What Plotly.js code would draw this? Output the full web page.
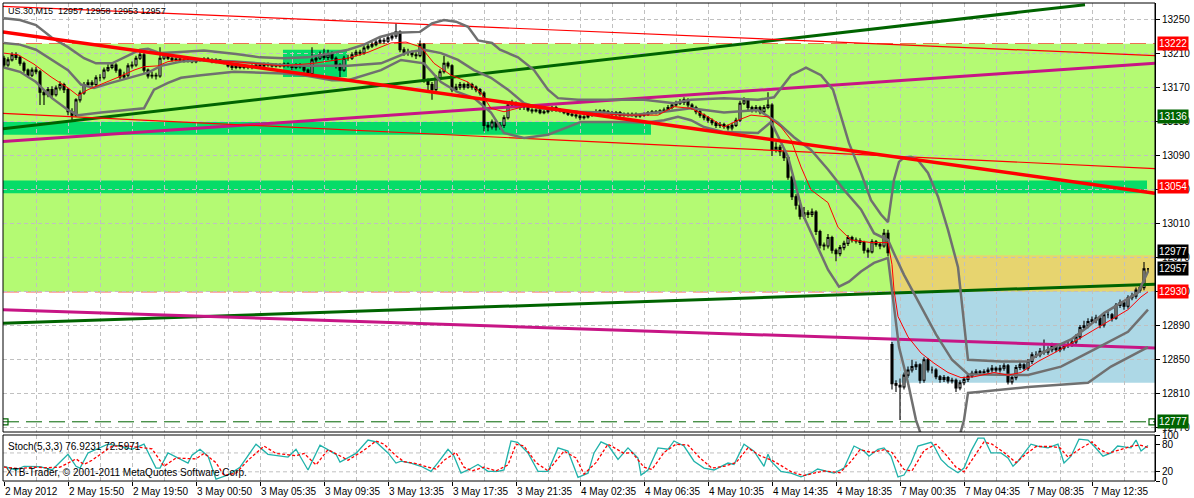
<!DOCTYPE html>
<html><head><meta charset="utf-8">
<script src="https://cdn.plot.ly/plotly-3.0.1.min.js"></script>
<style>html,body{margin:0;padding:0;background:#fff}#chart{width:1194px;height:498px}</style>
</head><body><div id="chart"></div>
<script>
// ---------- DATA ----------
const opens = [
13205,13197,13203,13209,13206,13199,13191,13185,13191,13189,
13165,13162,13168,13162,13170,13174,13168,13142,13138,13156,
13164,13174,13176,13174,13182,13182,13191,13194,13197,13191,
13183,13185,13196,13197,13205,13209,13191,13184,13185,13184,
13205,13209,13205,13203,13204,13203,13202,13203,13201,13203,
13203,13204,13203,13201,13203,13201,13200,13196,13194,13196,
13194,13195,13194,13196,13197,13196,13198,13197,13196,13197,
13196,13198,13196,13194,13197,13195,13191,13187,13203,13205,
13209,13206,13210,13205,13197,13191,13205,13205,13209,13212,
13211,13217,13219,13221,13224,13226,13225,13229,13231,13236,
13215,13212,13212,13209,13208,13221,13179,13174,13168,13182,
13189,13199,13196,13168,13171,13174,13171,13174,13171,13168,
13164,13126,13124,13130,13124,13126,13135,13150,13152,13149,
13147,13147,13144,13143,13144,13141,13142,13144,13147,13144,
13143,13141,13139,13138,13137,13135,13136,13138,13141,13142,
13143,13142,13141,13139,13141,13138,13139,13138,13139,13137,
13138,13139,13141,13142,13141,13143,13144,13147,13150,13152,
13153,13156,13150,13147,13142,13138,13135,13132,13129,13126,
13127,13125,13123,13126,13132,13152,13156,13147,13144,13147,
13142,13147,13150,13097,13100,13095,13088,13065,13042,13032,
13019,13023,13021,13024,13001,12985,12984,12994,12979,12975,
12982,12987,12994,12991,12990,12988,12979,12977,12989,12986,
12984,12999,12868,12822,12820,12818,12832,12838,12842,12844,
12826,12850,12838,12838,12830,12827,12829,12825,12826,12817,
12823,12827,12831,12834,12836,12835,12836,12838,12840,12838,
12840,12843,12824,12829,12841,12844,12840,12848,12856,12856,
12860,12859,12862,12867,12862,12864,12867,12868,12871,12877,
12888,12890,12895,12897,12899,12891,12903,12903,12899,12914,
12917,12913,12923,12925,12932,12935,12957];
const highs = [
13208,13206,13212,13212,13208,13201,13193,13194,13195,13191,
13168,13171,13172,13173,13178,13176,13170,13146,13158,13167,
13177,13180,13179,13185,13186,13194,13198,13200,13199,13193,
13189,13199,13201,13208,13213,13211,13193,13189,13188,13218,
13212,13211,13207,13206,13206,13205,13205,13205,13205,13205,
13206,13206,13205,13205,13204,13203,13202,13198,13198,13197,
13197,13197,13198,13199,13199,13200,13200,13199,13199,13199,
13200,13200,13198,13199,13199,13197,13193,13218,13208,13213,
13216,13215,13213,13207,13199,13208,13209,13212,13215,13215,
13220,13222,13224,13227,13229,13229,13232,13235,13246,13238,
13218,13216,13214,13212,13226,13223,13181,13177,13185,13192,
13208,13201,13198,13175,13177,13176,13177,13176,13173,13170,
13166,13130,13133,13132,13130,13138,13153,13156,13154,13151,
13150,13149,13146,13146,13146,13144,13146,13149,13149,13146,
13145,13143,13141,13140,13139,13138,13140,13143,13145,13145,
13145,13144,13143,13143,13143,13141,13141,13141,13141,13140,
13141,13143,13144,13144,13145,13147,13150,13153,13155,13157,
13159,13158,13152,13149,13144,13140,13137,13134,13131,13130,
13129,13127,13129,13135,13155,13159,13158,13149,13150,13149,
13150,13165,13152,13106,13103,13098,13090,13067,13045,13038,
13030,13026,13028,13026,13003,12988,12998,12996,12981,12985,
12990,12997,12996,12994,12993,12990,12982,12992,12991,12988,
13004,13003,12871,12826,12828,12835,12842,12850,12848,12846,
12853,12852,12842,12840,12832,12832,12831,12829,12828,12826,
12830,12834,12837,12839,12838,12839,12841,12844,12842,12844,
12846,12845,12832,12844,12847,12846,12851,12859,12860,12864,
12874,12866,12870,12869,12867,12870,12872,12874,12880,12891,
12896,12899,12901,12903,12901,12906,12907,12905,12917,12921,
12919,12926,12929,12935,12939,12965,12958];
const lows = [
13194,13195,13201,13203,13196,13188,13182,13183,13186,13150,
13150,13159,13158,13160,13167,13164,13138,13132,13136,13153,
13162,13171,13170,13172,13178,13180,13189,13192,13188,13180,
13180,13183,13193,13195,13203,13188,13181,13181,13180,13182,
13203,13203,13201,13201,13201,13200,13200,13199,13199,13201,
13201,13201,13199,13199,13199,13198,13194,13191,13192,13192,
13192,13192,13192,13194,13194,13194,13195,13194,13194,13194,
13194,13194,13191,13192,13193,13188,13184,13185,13200,13203,
13203,13203,13202,13193,13183,13189,13202,13203,13207,13208,
13209,13215,13217,13219,13222,13222,13223,13226,13228,13212,
13208,13208,13206,13204,13206,13176,13166,13156,13166,13180,
13187,13193,13165,13165,13168,13168,13169,13168,13165,13161,
13119,13119,13121,13120,13121,13123,13133,13147,13146,13144,
13144,13142,13140,13141,13139,13139,13140,13142,13142,13141,
13139,13137,13136,13134,13132,13133,13134,13136,13139,13140,
13140,13139,13137,13137,13136,13136,13136,13136,13135,13135,
13136,13137,13139,13139,13139,13141,13142,13145,13148,13150,
13150,13147,13144,13139,13135,13132,13129,13126,13123,13123,
13122,13120,13120,13124,13130,13150,13144,13141,13141,13139,
13139,13145,13090,13094,13090,13084,13062,13038,13027,13015,
13016,13017,13018,12997,12981,12979,12981,12975,12966,12972,
12979,12984,12988,12987,12985,12975,12970,12975,12983,12980,
12982,12972,12815,12812,12779,12815,12829,12835,12838,12822,
12823,12835,12834,12827,12823,12824,12822,12822,12812,12814,
12820,12824,12829,12832,12832,12833,12833,12835,12835,12835,
12837,12821,12821,12826,12838,12837,12837,12845,12852,12853,
12856,12856,12859,12859,12859,12861,12864,12865,12868,12874,
12885,12887,12892,12893,12887,12888,12899,12895,12897,12911,
12909,12910,12920,12922,12929,12932,12953];
const closes = [
13197,13203,13209,13206,13199,13191,13185,13191,13189,13165,
13162,13168,13162,13170,13174,13168,13142,13138,13156,13164,
13174,13176,13174,13182,13182,13191,13194,13197,13191,13183,
13185,13196,13197,13205,13209,13191,13184,13185,13184,13205,
13209,13205,13203,13204,13203,13202,13203,13201,13203,13203,
13204,13203,13201,13203,13201,13200,13196,13194,13196,13194,
13195,13194,13196,13197,13196,13198,13197,13196,13197,13196,
13198,13196,13194,13197,13195,13191,13187,13203,13205,13209,
13206,13210,13205,13197,13191,13205,13205,13209,13212,13211,
13217,13219,13221,13224,13226,13225,13229,13231,13236,13215,
13212,13212,13209,13208,13221,13179,13174,13168,13182,13189,
13199,13196,13168,13171,13174,13171,13174,13171,13168,13164,
13126,13124,13130,13124,13126,13135,13150,13152,13149,13147,
13147,13144,13143,13144,13141,13142,13144,13147,13144,13143,
13141,13139,13138,13137,13135,13136,13138,13141,13142,13143,
13142,13141,13139,13141,13138,13139,13138,13139,13137,13138,
13139,13141,13142,13141,13143,13144,13147,13150,13152,13153,
13156,13150,13147,13142,13138,13135,13132,13129,13126,13127,
13125,13123,13126,13132,13152,13156,13147,13144,13147,13142,
13147,13150,13097,13100,13095,13088,13065,13042,13032,13019,
13023,13021,13024,13001,12985,12984,12994,12979,12975,12982,
12987,12994,12991,12990,12988,12979,12977,12989,12986,12984,
12999,12976,12822,12820,12818,12832,12838,12842,12844,12826,
12850,12838,12838,12830,12827,12829,12825,12826,12817,12823,
12827,12831,12834,12836,12835,12836,12838,12840,12838,12840,
12843,12824,12829,12841,12844,12840,12848,12856,12856,12860,
12859,12862,12867,12862,12864,12867,12868,12871,12877,12888,
12890,12895,12897,12899,12891,12903,12903,12899,12914,12917,
12913,12923,12925,12932,12935,12957,12957];

// Bollinger bands (grey) read at sample bars
const bbUpperBars = [0,4,8,12,16,20,23,27,31,34,36,39,43,50,58,64,70,76,82,86,90,94,98,104,107,110,113,116,118.5,122,124,128.5,132.5,136,138.5,143.5,150,160,167.5,171.75,180,188.5,192.5,196.75,200.5,204.25,207.25,211.25,214.25,216.75,219.25,221,222.5,223.75,225,226.75,228.5,231,233.5,236,238.5,240,241,249.25,256,258.5,262.5,266.75,271,275,279.25,283.5,286];
const bbUpper = [13252,13250,13244,13229,13218,13205,13199,13199,13208,13215,13216,13211,13212,13214,13210,13206,13205,13206,13211,13215,13221,13230,13235,13236,13246,13250,13248,13242,13226,13223,13215,13206,13191,13168,13158,13156,13156,13156,13152,13156,13158,13156,13159,13185,13194,13185,13168,13105,13070,13038,13021,13012,13062,13083,13088,13089,13085,13070,13042,13003,12959,12894,12850,12848,12848,12856,12865,12874,12889,12905,12917,12929,12954];
const bbMidBars = [0,4,8,12,16,19.25,22.5,26.75,32.5,36,39.25,44.25,49.25,57.5,70,76,82,86,94.25,101,105,109.25,113.5,117.5,121.75,126,130,134.25,138.5,143.5,150,156.75,165,171.75,180,188.5,193.5,197.5,201.75,206,210,214.25,217.5,221,223,225,229,233,237,241,256,264.25,272.5,281,286];
const bbMid = [13223,13221,13215,13203,13191,13174,13170,13176,13183,13188,13196,13201,13203,13201,13197,13196,13196,13196,13199,13212,13215,13211,13203,13191,13182,13168,13152,13146,13144,13142,13141,13138,13142,13146,13141,13144,13129,13112,13097,13074,13050,13027,12999,12991,12970,12950,12915,12880,12850,12833,12832,12842,12862,12883,12909];
const bbLowerBars = [0,4,8,12,16,18.5,24.25,35,37.5,41,44.25,49.25,57.5,70,76,82,86,94.25,99.25,105,109.25,113.5,117.5,121.75,125,130,136,141,144.25,155,160,165,168.5,171.75,175,180,188.5,191.75,196,200,206,208.75,211.25,214.25,217.5,221,222.5,223.75,226,228,230.5,234.25,238,240,241,243.5,256,271,276.75,286];
const bbLower = [13194,13189,13177,13158,13144,13138,13141,13146,13168,13176,13182,13185,13189,13187,13184,13179,13179,13191,13203,13199,13177,13165,13158,13141,13117,13111,13115,13124,13130,13130,13129,13132,13136,13132,13124,13118,13117,13130,13089,13018,12956,12936,12942,12954,12964,12970,12910,12865,12823,12779,12745,12735,12745,12779,12811,12812,12818,12823,12842,12865];

// thin red moving average
const maBars = [0,3.5,7.5,11.75,16,18.5,21,24.25,28.75,32.5,35,38.5,41,46,57.5,69.25,77.5,86,91,96.75,100.5,104.25,107.5,111.75,116,119.25,121.75,125,130,135,143.5,155,163.5,167.5,171.75,176,180,183.5,186.75,191,194.25,196.75,199.25,201.75,206,208.5,211.75,216.75,221,222,222.5,223.5,226,229.25,232.5,236,239.25,242.5,247.5,251,254.25,258.5,262.5,268.5,272.5,276.75,281,284.25,286];
const maValues = [13211,13209,13198,13183,13170,13161,13168,13174,13183,13191,13195,13196,13201,13204,13201,13196,13199,13205,13212,13223,13224,13218,13199,13185,13177,13164,13146,13142,13148,13146,13141,13138,13138,13148,13146,13136,13124,13132,13138,13136,13124,13109,13077,13050,13035,13006,12991,12988,12988,12962,12932,12901,12877,12858,12846,12835,12829,12830,12835,12832,12835,12848,12858,12874,12885,12897,12909,12924,12930];

// Stochastic (5,3,3)
const stochKBars = [0,3,5,9,12,16,18,19,21,26,29,32,35,38,39,41,46,47,49,51,53,56,59,63,66,71,73,76,79,83,84,88,91,93,96,98,99.25,101.75,104.25,106.75,108.4,111,112.5,114.25,116,118.5,121,123.5,125,126.75,128.4,131,133.5,136,138.5,141,143.5,146,147.5,149.25,151,153.5,156,158.5,159.25,161,163.5,166,167.5,170,172.5,175,177.5,181,182.5,185,187.5,190,191,191.75,194.25,196.75,199.25,201.75,203.4,207.5,210,212.5,215,216.25,218.5,220,221.75,223.5,225,226.75,228.5,230,231.75,232.5,234.25,236,238.5,240,241.75,243.5,245,246.75,249.25,251,252.25,253.5,256.75,258.4,261,263.5,265,266.75,268.75,271,272.5,274.75,276.75,278.4,281.75,283,284.25,286];
const stochK = [32,24,32,31,24,58,32,28,61,80,76,69,80,28,28,61,39,56,69,54,4,13,30,80,58,52,69,24,78,58,41,60,89,85,61,39,43,39,32,21,39,69,54,17,24,36,21,21,24,87,84,61,21,21,72,65,8,17,61,85,78,47,72,50,13,24,72,69,87,76,43,28,24,39,36,80,65,32,58,43,21,17,9,17,26,17,28,76,65,54,69,72,54,9,13,39,76,80,84,76,47,32,18,28,65,93,93,61,61,50,32,43,80,76,72,80,39,54,91,89,76,54,61,76,72,89,65,77];
const stochDBars = [0,4,7,11,14,18,20,22,27,31,34,37,40,43,48,50,53,55,58,61,65,68,73,75,78,81,85,86,90,93,95,98,100,103,106,108,110,113,115,117,120,123,126,128,130,133,136,140,143,145,148,151,155,157,160,162,165,168,171,174,177,180,183,186,189,192,194,197,200,203,205,209,212,214,217,220,222,225,227,230,233,235,238,240,243,245,247,250,253,255,258,262,264,266,269,272,274,276,279,282,284,286];
const stochD = [30,27,30,29,30,48,36,45,76,76,73,70,32,50,48,60,40,12,17,45,76,60,55,60,35,68,50,45,67,87,80,55,42,38,30,26,45,62,30,22,30,22,35,80,76,40,22,65,50,15,40,80,60,62,30,25,62,80,78,50,28,32,40,72,55,45,35,19,12,18,22,18,45,68,62,68,62,25,22,66,80,62,30,20,60,85,80,62,40,55,75,75,72,52,70,85,68,60,68,76,78,73];

// trend lines: [start bar, end bar] and [start price, end price]
const redThickBars = [-0.25, 287.75],  redThickPrices = [13236, 13046];
const redTopBars = [-0.25, 287.75],    redTopPrices = [13266, 13208];
const redLowBars = [-0.25, 287.75],    redLowPrices = [13140, 13075];
const greenUpBars = [-0.25, 270.25],   greenUpPrices = [13122, 13268];
const greenLowBars = [-0.25, 287.75],  greenLowPrices = [12893, 12939];
const magUpBars = [-0.25, 287.75],     magUpPrices = [13107, 13199];
const magLowBars = [-0.25, 287.75],    magLowPrices = [12909, 12864];

// zones: [bar0, bar1, price0, price1]
const zoneMain   = [-0.25, 287.75, 12930, 13222];
const zoneBand1  = [-0.25, 161.75, 13115, 13130];
const zoneBox    = [69.75, 85.75, 13183, 13215];
const zoneBand2  = [-0.25, 285.75, 13046, 13061];
const zoneYellow = [221.75, 287.75, 12930, 12973];
const zoneBlue   = [221.75, 287.75, 12823, 12930];

// horizontal levels and right-side price tags
const levelPrices = [13222, 13136, 13054, 12977, 12957, 12930, 12777];
const levelTagText = ['13222','13136','13054','12977','12957','12930','12777'];
const levelMarkBars = [0.25, 287];

const priceTicks = [12770,12810,12850,12890,12930,12970,13010,13050,13090,13130,13170,13210,13250];
const stochTicks = [0,20,80,100];
const stochGrid = [20, 61];
const timeTickBars = [0,16,32,48,64,80,96,112,128,144,160,176,192,208,224,240,256,272];
const timeTickLabels = ['2 May 2012','2 May 15:50','2 May 19:50','3 May 00:50','3 May 05:35','3 May 09:35','3 May 13:35','3 May 17:35','3 May 21:35','4 May 02:35','4 May 06:35','4 May 10:35','4 May 14:35','4 May 18:35','7 May 00:35','7 May 04:35','7 May 08:35','7 May 12:35'];

// ---------- STYLES ----------
const FONT = 'Liberation Sans, Arial, sans-serif';
const GRID = '#c0c0c0';
const levelStyles = [
  {color:'#ff0000', dash:'16px,7px', tag:'#ff0000', tagFont:'#ffffff'},
  {color:'#006400', dash:'16px,7px', tag:'#006400', tagFont:'#ffffff'},
  {color:'#ff0000', dash:'16px,7px', tag:'#ff0000', tagFont:'#ffffff'},
  {color:'#000000', dash:'12px,4px,3px,4px', tag:'#000000', tagFont:'#ffffff'},
  {color:'#c0c0c0', dash:'solid', tag:'#000000', tagFont:'#ffffff'},
  {color:'#ff0000', dash:'16px,7px', tag:'#ff0000', tagFont:'#ffffff'},
  {color:'#006400', dash:'16px,7px', tag:'#006400', tagFont:'#ffffff'}
];

const bars = closes.map((c, i) => i);

function zoneRect(z, color) {
  return {type:'rect', xref:'x', yref:'y', x0:z[0], x1:z[1], y0:z[2], y1:z[3],
          fillcolor:color, line:{width:0}, layer:'below'};
}
function lineTrace(xs, ys, color, width, dash, yaxis) {
  return {type:'scatter', mode:'lines', x:xs, y:ys, yaxis:yaxis||'y',
          line:{color:color, width:width, dash:dash||'solid'}, hoverinfo:'skip'};
}

const traces = [
  {type:'candlestick', x:bars, open:opens, high:highs, low:lows, close:closes,
   increasing:{line:{color:'#000000', width:1.1}, fillcolor:'#ffffff'},
   decreasing:{line:{color:'#000000', width:1.1}, fillcolor:'#000000'},
   whiskerwidth:0, hoverinfo:'skip'},
  lineTrace(greenUpBars, greenUpPrices, '#006400', 3),
  lineTrace(greenLowBars, greenLowPrices, '#006400', 3),
  lineTrace(magUpBars, magUpPrices, '#c71585', 3),
  lineTrace(magLowBars, magLowPrices, '#c71585', 3),
  lineTrace(redTopBars, redTopPrices, '#ff0000', 1.2),
  lineTrace(redLowBars, redLowPrices, '#ff0000', 1.2),
  lineTrace(bbUpperBars, bbUpper, '#707070', 2.5),
  lineTrace(bbMidBars, bbMid, '#707070', 2.5),
  lineTrace(bbLowerBars, bbLower, '#707070', 2.5),
  lineTrace(redThickBars, redThickPrices, '#ff0000', 3.5),
  lineTrace(maBars, maValues, '#ff0000', 1),
  {type:'scatter', mode:'markers', x:levelMarkBars, y:[levelPrices[6], levelPrices[6]],
   marker:{symbol:'square-open', size:6, color:'#006400', line:{width:1.2}}, hoverinfo:'skip'},
  lineTrace(stochKBars, stochK, '#20b2aa', 1.3, 'solid', 'y2'),
  lineTrace(stochDBars, stochD, '#ff0000', 1.3, '3px,2px', 'y2')
];

const shapes = [
  zoneRect(zoneMain, '#b4fa73'),
  zoneRect(zoneBand1, '#06dc68'),
  zoneRect(zoneBox, '#06dc68'),
  zoneRect(zoneBand2, '#06dc68'),
  zoneRect(zoneYellow, '#e7d46f'),
  zoneRect(zoneBlue, '#add8e6')
];
levelPrices.forEach((p, i) => {
  const s = levelStyles[i];
  shapes.push({type:'line', xref:'paper', x0:0, x1:1, yref:'y', y0:p, y1:p,
               line:{color:s.color, width:1, dash:s.dash}, layer:'between'});
});
stochGrid.forEach(v => shapes.push({type:'line', xref:'paper', x0:0, x1:1, yref:'y2', y0:v, y1:v,
               line:{color:GRID, width:1, dash:'4px,3px'}, layer:'between'}));
const mainBottom = 49/478, stochTop = 46/478;
shapes.push({type:'rect', xref:'paper', yref:'paper', x0:0, x1:1, y0:mainBottom, y1:1,
             line:{color:'#000000', width:1}, fillcolor:'rgba(0,0,0,0)', layer:'above'});
shapes.push({type:'rect', xref:'paper', yref:'paper', x0:0, x1:1, y0:0, y1:stochTop,
             line:{color:'#000000', width:1}, fillcolor:'rgba(0,0,0,0)', layer:'above'});

const annotations = [];
levelPrices.forEach((p, i) => {
  const s = levelStyles[i];
  annotations.push({xref:'paper', x:1, xanchor:'left', xshift:2, yref:'y', y:p, yanchor:'middle',
    text:levelTagText[i], showarrow:false, bgcolor:s.tag, borderpad:1,
    font:{family:FONT, size:10, color:s.tagFont}});
});
timeTickBars.forEach((b, i) => {
  annotations.push({xref:'x', x:b, xanchor:'left', xshift:-1, yref:'paper', y:0, yanchor:'top', yshift:-3,
    text:timeTickLabels[i], showarrow:false, font:{family:FONT, size:10, color:'#000000'}});
});
annotations.push({xref:'paper', x:0, xanchor:'left', xshift:3, yref:'paper', y:1, yanchor:'top', yshift:-1,
  text:'US.30,M15  12957 12958 12953 12957', showarrow:false, font:{family:FONT, size:9, color:'#000000'}});
annotations.push({xref:'paper', x:0, xanchor:'left', xshift:3, yref:'paper', y:35/478, yanchor:'middle',
  text:'Stoch(5,3,3) 76.9231 72.5971', showarrow:false, font:{family:FONT, size:10, color:'#000000'}});
annotations.push({xref:'paper', x:0, xanchor:'left', xshift:1, yref:'paper', y:9/478, yanchor:'middle',
  text:'XTB-Trader, \u00a9 2001-2011 MetaQuotes Software Corp.', showarrow:false, font:{family:FONT, size:10, color:'#000000'}});

const layout = {
  width:1194, height:498,
  margin:{l:3, r:39, t:3, b:17, pad:0},
  paper_bgcolor:'#ffffff', plot_bgcolor:'#ffffff',
  showlegend:false, hovermode:false,
  xaxis:{range:[-0.25, 287.75], anchor:'y2', tickmode:'linear', tick0:0, dtick:16,
         ticks:'outside', ticklen:4, tickcolor:'#000000', showticklabels:false,
         showgrid:true, gridcolor:GRID, griddash:'4px,3px', gridwidth:1,
         minor:{tickmode:'linear', tick0:0, dtick:8, showgrid:true, gridcolor:GRID, griddash:'4px,3px', ticks:''},
         zeroline:false, showline:false, rangeslider:{visible:false}, fixedrange:true},
  yaxis:{domain:[mainBottom, 1], range:[12765, 13270], side:'right', anchor:'x',
         tickmode:'array', tickvals:priceTicks, ticktext:priceTicks.map(String),
         ticks:'outside', ticklen:4, tickcolor:'#000000',
         tickfont:{family:FONT, size:10, color:'#000000'},
         showgrid:true, gridcolor:GRID, griddash:'4px,3px', gridwidth:1,
         showline:true, linecolor:'#000000', zeroline:false, fixedrange:true},
  yaxis2:{domain:[0, stochTop], range:[0, 100], side:'right', anchor:'x',
         tickmode:'array', tickvals:stochTicks, ticktext:stochTicks.map(String),
         ticks:'outside', ticklen:4, tickcolor:'#000000',
         tickfont:{family:FONT, size:10, color:'#000000'},
         showgrid:false, showline:true, linecolor:'#000000', zeroline:false, fixedrange:true},
  shapes:shapes,
  annotations:annotations
};

Plotly.newPlot('chart', traces, layout, {staticPlot:true, displayModeBar:false});
</script></body></html>
